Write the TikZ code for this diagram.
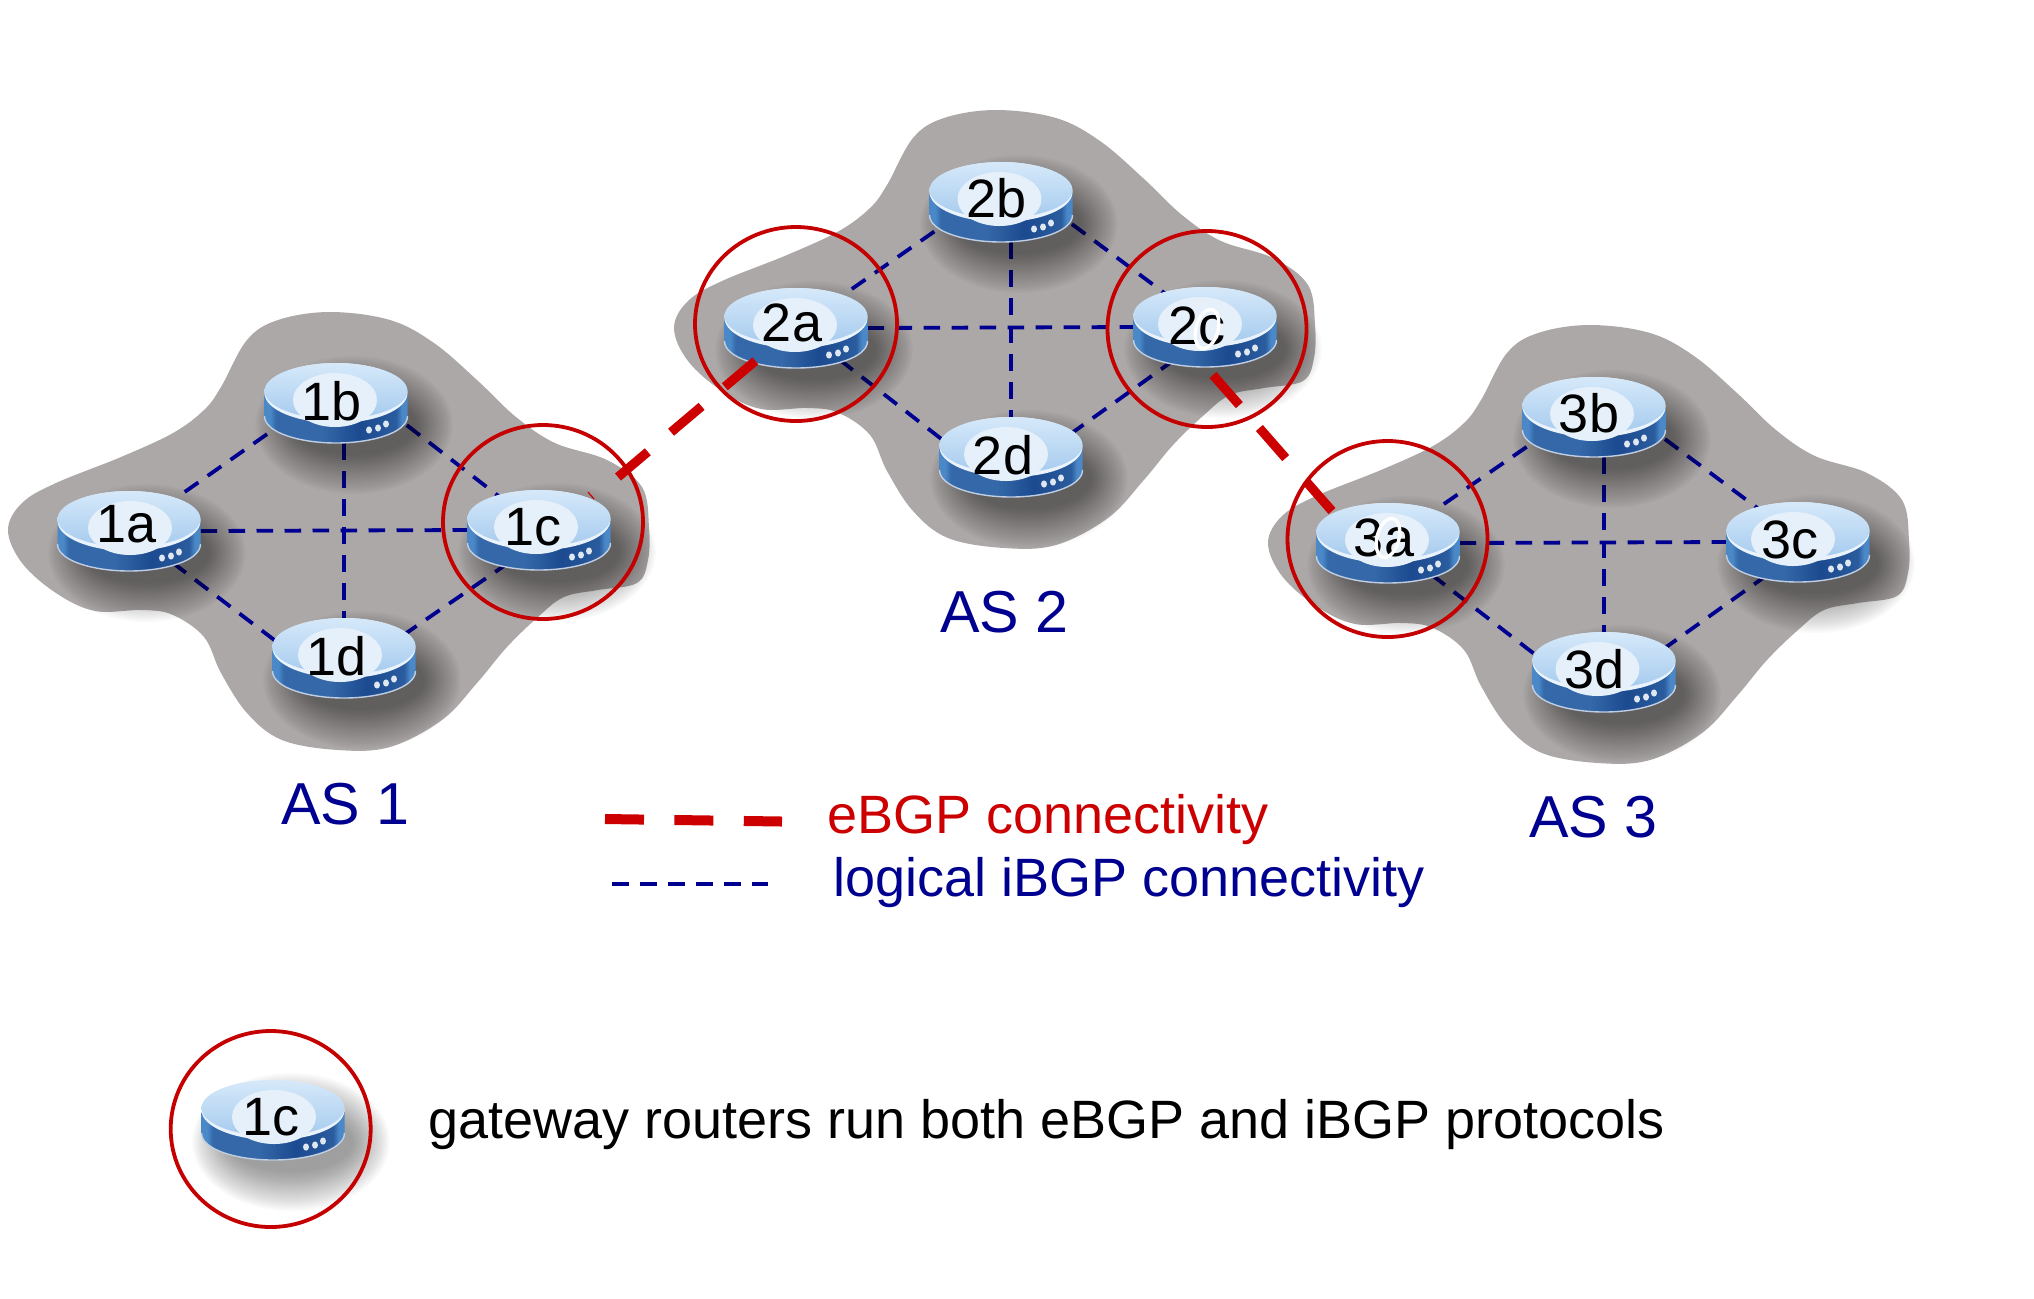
\documentclass[tikz,border=0pt]{standalone}
\usepackage{fontspec}
\setmainfont{Liberation Sans}
\usetikzlibrary{shapes.geometric,calc}
\definecolor{cloudgray}{HTML}{ACA8A7}
\definecolor{navyline}{HTML}{000090}
\definecolor{redline}{HTML}{CC0000}
\definecolor{ringred}{HTML}{C40000}
\definecolor{bodyedge}{HTML}{4A88C8}
\definecolor{bodya}{HTML}{3468A8}
\definecolor{bodyb}{HTML}{1C4A90}
\definecolor{bodyc}{HTML}{2A5C9E}
\definecolor{toplight}{HTML}{D6E9FA}
\definecolor{topdark}{HTML}{A6CBEE}
\definecolor{rimlight}{HTML}{EAF3FB}
\definecolor{labelfill}{HTML}{E6F0FA}
\pgfdeclarehorizontalshading{routerbody}{100bp}{
  color(0bp)=(bodyedge); color(25bp)=(bodyedge); color(27bp)=(bodyedge); color(29bp)=(bodya);
  color(45bp)=(bodya); color(58bp)=(bodyb); color(71bp)=(bodyc);
  color(73bp)=(bodyedge); color(75bp)=(bodyedge); color(100bp)=(bodyedge)}
\tikzset{
  rnode/.style={ellipse,minimum width=71.5pt,minimum height=40pt,inner sep=0pt,outer sep=0pt},
  ibgp/.style={draw=navyline,line width=1.9pt,dash pattern=on 8.3pt off 5.7pt},
  ebgp/.style={draw=redline,line width=4.6pt,dash pattern=on 20pt off 15.2pt},
  ringnode/.style={ellipse,draw=ringred,line width=1.9pt,inner sep=0pt,outer sep=0pt,fill=none},
  rlabel/.style={anchor=base,inner sep=0pt,font=\fontsize{27pt}{27pt}\selectfont,text=black},
  aslabel/.style={anchor=base west,inner sep=0pt,font=\fontsize{29.6pt}{30pt}\selectfont,text=navyline},
  legtext/.style={anchor=base west,inner sep=0pt,font=\fontsize{27pt}{27pt}\selectfont}
}
\newcommand{\ascloud}[2]{%
  \fill[cloudgray,shift={(#1,#2)}] plot[smooth cycle,tension=0.6] coordinates {
  (330,312) (390,320) (434,343) (477,380) (516,417) (555,443) (607,460) (642,487)
  (649,527) (648,560) (637,583) (598,590) (564,597) (538,617) (507,647) (477,683)
  (442,720) (390,747) (338,750) (282,740) (247,713) (221,673) (204,637) (173,615)
  (143,610) (95,611) (56,593) (22,563) (8,530) (22,503) (56,483) (121,457) (173,433)
  (204,410) (221,387) (247,340) (278,320)};}
\newcommand{\routerart}[4]{%
  \begin{scope}[shift={(#1)}]
    \begin{scope}
      \clip (-87,-67) rectangle (118,90);
      \foreach \i in {0,...,23}{
        \fill[black,opacity=0.02] (18,22) ellipse [x radius={(31+0.8*\i)*1pt},y radius={(15+0.85*\i)*1pt}];
      }
    \end{scope}
    \path[shading=routerbody] (-71.5,-8) -- (-71.5,13) .. controls (-71.5,30) and (-35,40) .. (0,40)
      .. controls (35,40) and (71.5,30) .. (71.5,13) -- (71.5,-8) -- cycle;
    \draw[white!70!bodyc,line width=0.7pt] (-71.5,13) .. controls (-71.5,30) and (-35,40) .. (0,40)
      .. controls (35,40) and (71.5,30) .. (71.5,13);
    \fill[rimlight] (0,-10) ellipse [x radius=35.75pt,y radius=15pt];
    \shade[top color=toplight,bottom color=topdark] (0,-12) ellipse [x radius=35.75pt,y radius=14pt];
    \fill[labelfill] ($(#3+3,-3)$) ellipse [x radius=21pt,y radius=13.5pt];
    \foreach \p in {(33,27),(42,25),(50,21)}{
      \fill[white!85!bodyc] \p ellipse [x radius=1.5pt,y radius=1.8pt];
    }
    \node[rlabel] (#1t) at ($(#3,#4+19.5)$) {#2};
  \end{scope}}
\begin{document}
\begin{tikzpicture}[x=0.5pt,y=-0.5pt]
\useasboundingbox (0,0) rectangle (2034,1298);
% autonomous systems
\ascloud{0}{0}
\ascloud{666}{-202}
\ascloud{1260}{13}
% router anchors
\node[rnode] (r1a) at (129,531) {};
\node[rnode] (r1b) at (336,403) {};
\node[rnode] (r1c) at (539,530) {};
\node[rnode] (r1d) at (344,658) {};
\node[rnode] (r2a) at (796,328) {};
\node[rnode] (r2b) at (1001,202) {};
\node[rnode] (r2c) at (1205,327) {};
\node[rnode] (r2d) at (1011,457) {};
\node[rnode] (r3a) at (1388,543) {};
\node[rnode] (r3b) at (1594,417) {};
\node[rnode] (r3c) at (1798,542) {};
\node[rnode] (r3d) at (1604,672) {};
\node[rnode] (r0c) at (273,1120) {};
% iBGP mesh
\foreach \s in {1,2,3}{
  \draw[ibgp,shorten <=6.8pt] (r\s a.35) -- (r\s b.202);
  \draw[ibgp,shorten <=4pt] (r\s b.345) -- (r\s c.140);
  \draw[ibgp,yshift=-1pt] (r\s a.0) -- (r\s c.180);
  \draw[ibgp] (r\s d |- r\s b.south) -- (r\s d.north);
  \draw[ibgp] (r\s a.324) -- (r\s d.167);
  \draw[ibgp] (r\s d.21) -- (r\s c.226);
}
% routers
\routerart{r1a}{1a}{-2}{-8}
\routerart{r1b}{1b}{-4}{-2.5}
\routerart{r1c}{1c}{-6}{-4}
\routerart{r1d}{1d}{-7}{-2}
\routerart{r2a}{2a}{-4}{-6}
\routerart{r2b}{2b}{-4.5}{-4}
\routerart{r2c}{2c}{-8}{-2}
\routerart{r2d}{2d}{-8}{-2}
\routerart{r3a}{3a}{-4}{-6}
\routerart{r3b}{3b}{-5}{-4.5}
\routerart{r3c}{3c}{-8}{-3.5}
\routerart{r3d}{3d}{-9.5}{-3.5}
\routerart{r0c}{1c}{-2}{-4}
% white overprint marks on 2c and 3a
\draw[white,line width=1.7pt,rotate around={-15:(1207,329)}] (1207,329) ellipse [x radius=5.5pt,y radius=10pt];
\draw[white,line width=1.7pt,rotate around={-15:(1388,538)}] (1388,538) ellipse [x radius=5.5pt,y radius=10pt];
% eBGP links
\coordinate (e1c) at (618,477);
\coordinate (e2c) at (1213,375);
\coordinate (e3a) at (1332,511);
\coordinate (h1) at (588,492);
\coordinate (h2) at (594,499);
\draw[ebgp] (r2a.219) -- (e1c);
\draw[redline,line width=0.6pt] (h1) -- (h2);
\draw[ebgp] (e2c) -- (e3a);
% gateway rings
\node[ringnode,minimum width=100pt,minimum height=97pt] (g1c) at (543,522) {};
\node[ringnode,minimum width=101pt,minimum height=97pt] (g2a) at (796,324) {};
\node[ringnode,minimum width=99.5pt,minimum height=98pt] (g2c) at (1207,329) {};
\node[ringnode,minimum width=100pt,minimum height=98pt] (g3a) at (1387.5,539) {};
\node[ringnode,minimum width=100pt,minimum height=98pt] (g0c) at (270.7,1129) {};
% AS labels
\node[aslabel] (as1) at (281,824) {AS 1};
\node[aslabel] (as2) at (940,632) {AS 2};
\node[aslabel] (as3) at (1529,837) {AS 3};
% legend
\coordinate (la) at (605,819);
\coordinate (lb) at (782,821.5);
\coordinate (lc) at (612,884);
\coordinate (ld) at (768,884);
\draw[draw=redline,line width=5pt,dash pattern=on 19.5pt off 15.2pt] (la) -- (lb);
\draw[ibgp,line width=2pt] (lc) -- (ld);
\node[legtext,text=redline] (t1) at (827,833) {eBGP connectivity};
\node[legtext,text=navyline] (t2) at (833,896) {logical iBGP connectivity};
\node[legtext,text=black] (t3) at (428,1138) {gateway routers run both eBGP and iBGP protocols};
\end{tikzpicture}
\end{document}
